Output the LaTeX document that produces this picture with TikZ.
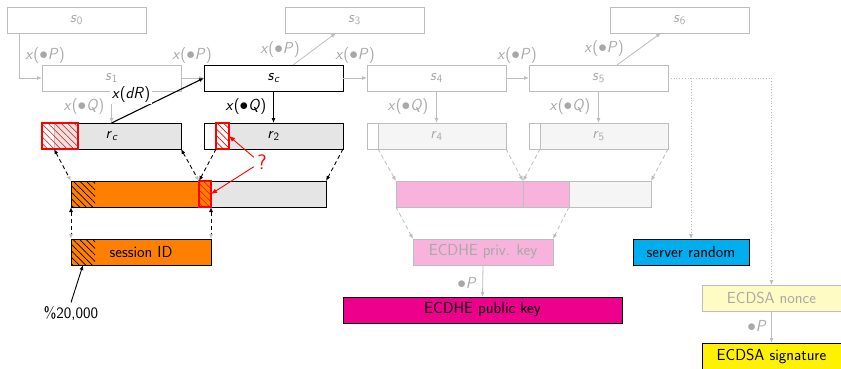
\documentclass[tikz,border=0pt]{standalone}
\usepackage{fontspec}
\usepackage{amsmath}
\usetikzlibrary{arrows.meta,patterns.meta,calc}
\definecolor{gline}{HTML}{BDBDBD}
\definecolor{gtext}{HTML}{A8A8A8}
\definecolor{lgray}{HTML}{E5E5E5}
\definecolor{vlgray}{HTML}{F5F5F5}
\definecolor{orng}{HTML}{FF8000}
\definecolor{pnk}{HTML}{F7B3DC}
\definecolor{mgnt}{HTML}{EC008C}
\definecolor{cyn}{HTML}{00AEEF}
\definecolor{ylw}{HTML}{FFF200}
\definecolor{pylw}{HTML}{FFFBC4}
\newcommand\xlab[1]{\textit{x}($\bullet$\textit{#1})}
\newcommand\svar[2]{\textit{#1}$_{\text{#2}}$}
\begin{document}
\begin{tikzpicture}[x=1pt,y=-1pt,
  font=\sffamily\fontsize{16}{19}\selectfont,
  box/.style={draw, minimum width=139pt, minimum height=26pt, inner sep=0pt, outer sep=0pt, line width=0.9pt},
  gbox/.style={box, draw=gline, text=gtext},
  part/.style={draw, minimum height=26pt, inner sep=0pt, outer sep=0pt, line width=0.9pt},
  redhatch/.style={part, draw=red, line width=1.1pt, pattern={Lines[angle=-45,distance=4.6pt,line width=0.6pt]}, pattern color=red},
  blkhatch/.style={minimum height=26pt, inner sep=0pt, outer sep=0pt, pattern={Lines[angle=-45,distance=4.6pt,line width=0.7pt]}, pattern color=black},
  garrow/.style={draw=gline, line width=0.8pt, -{Latex[length=5pt,width=4pt]}},
  barrow/.style={draw=black, line width=0.9pt, -{Latex[length=5pt,width=4pt]}},
  gdash/.style={garrow, dash pattern=on 4pt off 3pt},
  bdash/.style={barrow, dash pattern=on 4pt off 3pt},
  mixdash/.style={draw=black, line width=0.9pt, dash pattern=on 4pt off 3pt, {Latex[length=5pt,width=4pt]}-{Latex[length=5pt,width=4pt,color=gline]}},
  gdot/.style={draw=gline, line width=0.8pt, dotted, -{Latex[length=5pt,width=4pt]}},
  glab/.style={text=gtext, inner sep=1pt},
  blab/.style={text=black, inner sep=1pt}
]
\useasboundingbox (0,0) rectangle (841,368);

% top row
\node[gbox] (s0) at (76.5,20) {\svar{s}{0}};
\node[gbox] (s3) at (354.5,20) {\svar{s}{3}};
\node[gbox] (s6) at (679.5,20) {\svar{s}{6}};

% s row
\node[gbox] (s1) at (111.5,78) {\svar{s}{1}};
\node[box, fill=white] (sc) at (273.5,78) {\textit{s}$_{\textit{c}}$};
\node[gbox] (s4) at (436.5,78) {\svar{s}{4}};
\node[gbox] (s5) at (598.5,78) {\svar{s}{5}};

% r row
\node[box, fill=lgray] (rc) at (111.5,136) {};
\node[part, draw=gline, fill=white, minimum width=12pt] (rcw) at (48,136) {};
\node[redhatch, minimum width=36pt] (rcq) at (60,136) {};
\node at (rc) {\textit{r}$_{\textit{c}}$};

\node[box, fill=lgray] (r2) at (273.5,136) {};
\node[part, draw=none, fill=white, minimum width=12pt] (r2w) at (210,136) {};
\node[part, draw=none, fill=white, minimum width=13pt] (r2q) at (222.5,136) {};
\draw[line width=0.9pt] (r2.north west) rectangle (r2.south east);
\node[redhatch, minimum width=13pt] at (222.5,136) {};
\node at (r2) {\svar{r}{2}};

\node[gbox, fill=vlgray] (r4) at (436.5,136) {};
\node[part, draw=gline, fill=white, minimum width=11pt] (r4w) at (372.5,136) {};
\node[text=gtext] at (r4) {\svar{r}{4}};
\node[gbox, fill=vlgray] (r5) at (598.5,136) {};
\node[part, draw=gline, fill=white, minimum width=11pt] (r5w) at (534.5,136) {};
\node[text=gtext] at (r5) {\svar{r}{5}};

% bar row
\node[part, fill=lgray, minimum width=115pt] (bargray) at (268.5,194) {};
\node[part, fill=orng, minimum width=140pt] (bar) at (141,194) {};
\node[blkhatch, minimum width=24pt] at (83,194) {};
\node[redhatch, minimum width=12pt] (barq) at (205,194) {};

\node[part, draw=gline, fill=vlgray, minimum width=82pt] (pinkgray) at (610,194) {};
\node[part, draw=gline, fill=pnk, minimum width=127pt] (pink1) at (459.5,194) {};
\node[part, draw=gline, fill=pnk, minimum width=46pt] (pink2) at (546,194) {};

% lower boxes
\node[part, fill=orng, minimum width=140pt] (sid) at (141,252) {};
\node[blkhatch, minimum width=24pt] at (83,252) {};
\node at (sid) {session ID};
\node[part, draw=gline, fill=pnk, text=gtext, minimum width=140pt] (priv) at (483,252) {ECDHE priv. key};
\node[part, fill=mgnt, minimum width=279pt] (pub) at (482.5,310) {ECDHE public key};
\node[part, fill=cyn, minimum width=116pt] (srv) at (691,252) {server random};
\node[part, draw=gline, fill=pylw, text=gtext, minimum width=139pt] (nonce) at (771.5,298) {ECDSA nonce};
\node[part, fill=ylw, minimum width=139pt] (sig) at (771.5,356) {ECDSA signature};

% s-chain arrows
\draw[garrow] ($(s0.south west)+(12,0)$) |- (s1.west);
\node[glab] at (45,56) {\xlab{P}};
\draw[garrow] (s1.east) -- (sc.west);
\node[glab] at (192,56) {\xlab{P}};
\draw[garrow] ($(sc.north)+(19.5,0)$) -- ($(s3.south)+(-18.5,0)$);
\node[glab] at (280,50) {\xlab{P}};
\draw[garrow] (sc.east) -- (s4.west);
\node[glab] at (355,56) {\xlab{P}};
\draw[garrow] (s4.east) -- (s5.west);
\node[glab] at (517,56) {\xlab{P}};
\draw[garrow] ($(s5.north)+(18.5,0)$) -- ($(s6.south)+(-18.5,0)$);
\node[glab] at (604,49) {\xlab{P}};

% s -> r arrows
\draw[garrow] (s1.south) -- (rc.north);
\node[glab] at (84,107) {\xlab{Q}};
\draw[barrow] (sc.south) -- (r2.north);
\node[blab] at (246,107) {\xlab{Q}};
\draw[garrow] (s4.south) -- (r4.north);
\node[glab] at (408,107) {\xlab{Q}};
\draw[garrow] (s5.south) -- (r5.north);
\node[glab] at (570,107) {\xlab{Q}};

% x(dR)
\draw[barrow, line width=1.1pt] (rc.north) -- (sc.west);
\node[blab, fill=white, inner sep=1.5pt] at (131,95) {\textit{x}(\textit{dR})};

% r -> bar
\draw[mixdash] (rcw.south east) -- (bar.north west);
\draw[mixdash] (rc.south east) -- (barq.north west);
\draw[bdash] (r2q.south west) -- (barq.north west);
\draw[bdash] (r2.south east) -- (bargray.north east);
\draw[mixdash] (bar.south west) -- (sid.north west);
\draw[mixdash] (barq.south east) -- (sid.north east);

\draw[gdash] (r4w.south east) -- (pink1.north west);
\draw[gdash] (r4.south east) -- (pink1.north east);
\draw[gdash] (r5w.south east) -- (pink1.north east);
\draw[gdash] (r5.south east) -- (pinkgray.north east);
\draw[gdash] (pink1.south west) -- (priv.north west);
\draw[gdash] (pink2.south east) -- (priv.north east);

\draw[garrow] (priv.south) -- (pub.north);
\node[glab] at (467,283) {$\bullet$\textit{P}};
\draw[garrow] (nonce.south) -- (sig.north);
\node[glab] at (757,326) {$\bullet$\textit{P}};

% dotted
\draw[gdot] (s5.east) -| (nonce.north);
\draw[gdot] (s5.east -| srv.north) -- (srv.north);

% question mark
\node[text=red, font=\sffamily\fontsize{21}{25}\selectfont] (q) at (262,162) {?};
\draw[draw=red, line width=0.9pt, -{Latex[length=6pt,width=5pt]}] (q.150) -- (r2q.east);
\draw[draw=red, line width=0.9pt, -{Latex[length=6pt,width=5pt]}] (q.210) -- (barq.east);

% %20,000
\node (pct) at (71,313) {\%20,000};
\draw[barrow] (pct.north) -- ($(sid.south west)+(12,0)$);
\end{tikzpicture}
\end{document}
